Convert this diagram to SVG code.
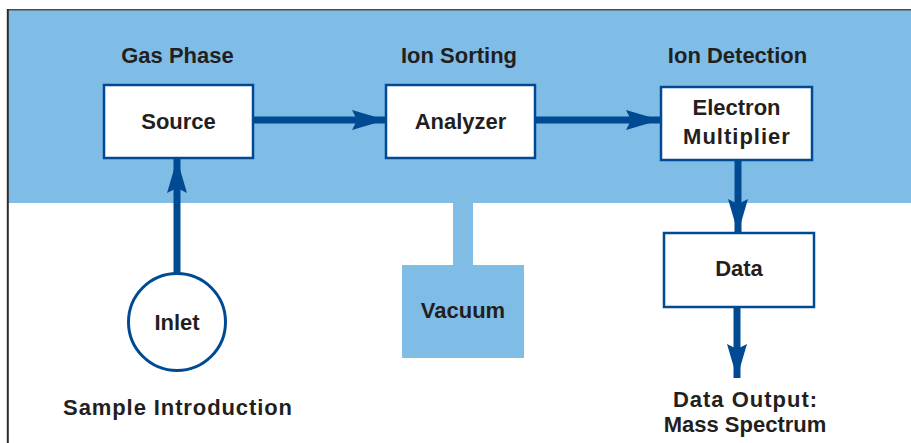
<svg xmlns="http://www.w3.org/2000/svg" width="911" height="443" viewBox="0 0 911 443">
<defs>
<style>
.t{font-family:"Liberation Sans",Arial,sans-serif;font-weight:bold;font-size:22px;fill:#231f20;text-anchor:middle}
.box{fill:#ffffff;stroke:#004a93;stroke-width:2.5}
.bg{fill:#7fbde7}
.conn{stroke:#004a93;stroke-width:7;fill:none}
</style>
<marker id="ah" markerUnits="userSpaceOnUse" markerWidth="36" markerHeight="22" refX="34" refY="10" orient="auto" viewBox="0 0 36 22">
<path d="M0,0 L34,10 L0,20 L5,10 Z" fill="#004a93"/>
</marker>
</defs>
<rect x="0" y="0" width="911" height="443" fill="#ffffff"/>
<g id="frame">
<rect class="bg" x="8" y="10" width="903" height="193"/>
<line x1="7" y1="9.7" x2="911" y2="9.7" stroke="#4d4d4d" stroke-width="1.6"/>
<line x1="7.8" y1="9" x2="7.8" y2="443" stroke="#2b2b2b" stroke-width="2"/>
</g>
<g id="headers">
<text class="t" x="177.5" y="63">Gas Phase</text>
<text class="t" x="459" y="63">Ion Sorting</text>
<text class="t" x="737.5" y="63">Ion Detection</text>
</g>
<g id="vacuum">
<rect class="bg" x="453" y="200" width="20" height="66"/>
<rect class="bg" x="402" y="265" width="122" height="93"/>
<text class="t" x="463" y="318">Vacuum</text>
</g>
<g id="connectors">
<line class="conn" x1="254" y1="120" x2="386" y2="120" marker-end="url(#ah)"/>
<line class="conn" x1="536" y1="120" x2="660" y2="120" marker-end="url(#ah)"/>
<line class="conn" x1="177" y1="274" x2="177" y2="159" marker-end="url(#ah)"/>
<line class="conn" x1="738" y1="161" x2="738" y2="233" marker-end="url(#ah)"/>
<line class="conn" x1="737" y1="307" x2="737" y2="378" marker-end="url(#ah)"/>
</g>
<g id="source">
<rect class="box" x="104" y="85" width="149" height="73"/>
<text class="t" x="178.5" y="129">Source</text>
</g>
<g id="analyzer">
<rect class="box" x="386" y="85" width="149" height="73"/>
<text class="t" x="460.5" y="129">Analyzer</text>
</g>
<g id="multiplier">
<rect class="box" x="661" y="87" width="151" height="73"/>
<text class="t" x="736.5" y="115">Electron</text>
<text class="t" x="737" y="144" style="letter-spacing:1px">Multiplier</text>
</g>
<g id="data">
<rect class="box" x="664" y="233" width="150" height="74"/>
<text class="t" x="739" y="276">Data</text>
</g>
<g id="inlet">
<circle cx="177" cy="322" r="48.5" fill="#ffffff" stroke="#004a93" stroke-width="3"/>
<text class="t" x="177" y="330">Inlet</text>
</g>
<g id="labels">
<text class="t" x="178" y="415" style="letter-spacing:0.9px">Sample Introduction</text>
<text class="t" x="745.5" y="407" style="letter-spacing:1px">Data Output:</text>
<text class="t" x="745" y="432">Mass Spectrum</text>
</g>
</svg>
